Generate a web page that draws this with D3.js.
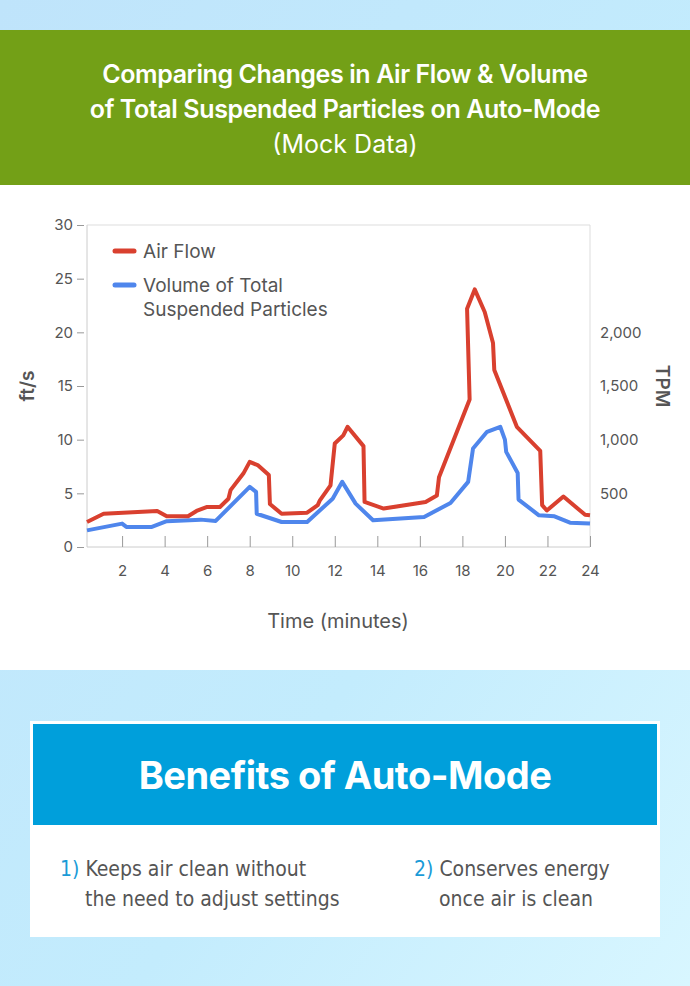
<!DOCTYPE html>
<html><head><meta charset="utf-8">
<script src="https://cdn.jsdelivr.net/npm/d3@7"></script>
<style>
body{margin:0;}
svg{display:block;font-family:Inter,"Open Sans",sans-serif;}
</style></head>
<body>
<svg id="chart" width="690" height="986"></svg>
<script>
const airFlow = [
  [0.35,2.33],[1.13,3.1],[3.65,3.36],[4.1,2.86],[5.1,2.86],[5.5,3.36],[6.0,3.73],[6.6,3.73],
  [7.0,4.5],[7.1,5.3],[7.7,6.84],[8.0,7.93],[8.4,7.6],[8.9,6.7],[8.95,4.0],[9.5,3.1],[10.7,3.2],
  [11.2,3.9],[11.3,4.35],[11.8,5.75],[12.0,9.64],[12.4,10.4],[12.6,11.2],[13.35,9.4],[13.4,4.2],
  [14.3,3.58],[16.27,4.2],[16.8,4.8],[16.9,6.5],[18.34,13.75],[18.22,22.2],[18.58,24.0],[19.05,21.9],
  [19.44,19.0],[19.5,16.5],[20.56,11.2],[21.66,8.96],[21.75,3.9],[21.97,3.4],[22.75,4.7],[23.77,3.0],[24,2.95]
];
const tpm = [
  [0.35,155],[2.0,218],[2.2,187],[3.4,187],[4.1,240],[5.7,255],[6.4,243],[8.0,560],[8.3,513],[8.33,310],
  [9.5,233],[10.7,233],[11.9,450],[12.35,607],[12.98,404],[13.8,249],[16.2,280],[17.44,410],[18.27,607],
  [18.5,918],[19.16,1073],[19.78,1120],[20.0,1000],[20.06,886],[20.6,690],[20.64,442],[21.6,295],
  [22.33,286],[23.06,227],[24,218]
];
const xTicks = [2,4,6,8,10,12,14,16,18,20,22,24];
const yTicks = [0,5,10,15,20,25,30];
const rTicks = [500,1000,1500,2000];

const svg = d3.select("#chart");
const defs = svg.append("defs");
const bg = defs.append("linearGradient").attr("id","bg").attr("x1","0").attr("y1","0").attr("x2","1").attr("y2","1");
bg.append("stop").attr("offset","0").attr("stop-color","#bfe4fb");
bg.append("stop").attr("offset","0.6").attr("stop-color","#c3ecfd");
bg.append("stop").attr("offset","1").attr("stop-color","#d8f6ff");
svg.append("rect").attr("width",690).attr("height",986).attr("fill","url(#bg)");

// header
svg.append("rect").attr("y",30).attr("width",690).attr("height",155).attr("fill","#73a017");
const title = ["Comparing Changes in Air Flow & Volume","of Total Suspended Particles on Auto-Mode"];
svg.selectAll(".title").data(title).join("text")
  .attr("x",345).attr("y",(d,i)=>83+i*35).attr("text-anchor","middle")
  .attr("fill","#fff").attr("font-size",25).attr("font-weight",600).attr("letter-spacing","-0.4").text(d=>d);
svg.append("text").attr("x",345).attr("y",153).attr("text-anchor","middle")
  .attr("fill","#fff").attr("font-size",25).attr("font-weight",400).text("(Mock Data)");

// chart panel
svg.append("rect").attr("y",185).attr("width",690).attr("height",485).attr("fill","#fff");

const x = d3.scaleLinear().domain([0.35,24]).range([87,590]);
const y = d3.scaleLinear().domain([0,30]).range([547,225]);
const yR = d3.scaleLinear().domain([0,3000]).range([547,225]);

const g = svg.append("g").attr("font-family","Inter,sans-serif");
// frame
g.append("line").attr("x1",x.range()[0]).attr("x2",x.range()[1]).attr("y1",225).attr("y2",225).attr("stroke","#ddd");
g.append("line").attr("x1",590).attr("x2",590).attr("y1",225).attr("y2",547).attr("stroke","#ddd");
g.append("line").attr("x1",87).attr("x2",87).attr("y1",225).attr("y2",547).attr("stroke","#ccc");

const yAx = g.append("g").attr("transform","translate(87,0)")
  .call(d3.axisLeft(y).tickValues(yTicks).tickSize(20).tickPadding(4));
yAx.select(".domain").remove();
yAx.selectAll(".tick line").attr("stroke","#999").attr("x1",-10).attr("x2",-3);
yAx.selectAll("text").attr("font-size",15).attr("fill","#555").attr("font-family","Inter,sans-serif").attr("dx",10);

const xAx = g.append("g").attr("transform","translate(0,547)")
  .call(d3.axisBottom(x).tickValues(xTicks).tickSize(0).tickPadding(18));
xAx.select(".domain").attr("stroke","#ccc").attr("d","M87,0H590");
xAx.selectAll(".tick").append("line").attr("y1",-11).attr("y2",0).attr("stroke","#999");
xAx.selectAll("text").attr("font-size",15).attr("fill","#555").attr("font-family","Inter,sans-serif");

const rAx = g.append("g").attr("transform","translate(600,0)")
  .call(d3.axisRight(yR).tickValues(rTicks).tickSize(0).tickPadding(0).tickFormat(d3.format(",")));
rAx.select(".domain").remove();
rAx.selectAll("text").attr("font-size",15).attr("fill","#555").attr("font-family","Inter,sans-serif");

const line = d3.line().x(d=>x(d[0])).y(d=>y(d[1]));
const lineR = d3.line().x(d=>x(d[0])).y(d=>yR(d[1]));
g.append("path").datum(tpm).attr("d",lineR).attr("fill","none").attr("stroke","#4f86ec").attr("stroke-width",4).attr("stroke-linejoin","round");
g.append("path").datum(airFlow).attr("d",line).attr("fill","none").attr("stroke","#d9402f").attr("stroke-width",4).attr("stroke-linejoin","round");

// legend
const leg = g.append("g");
leg.append("line").attr("x1",115).attr("x2",134).attr("y1",251).attr("y2",251).attr("stroke","#d9402f").attr("stroke-width",5).attr("stroke-linecap","round");
leg.append("line").attr("x1",115).attr("x2",134).attr("y1",285).attr("y2",285).attr("stroke","#4f86ec").attr("stroke-width",5).attr("stroke-linecap","round");
leg.append("text").attr("x",143).attr("y",258).attr("font-size",19).attr("fill","#555").text("Air Flow");
leg.append("text").attr("x",143).attr("y",292).attr("font-size",19).attr("fill","#555").text("Volume of Total");
leg.append("text").attr("x",143).attr("y",316).attr("font-size",19).attr("fill","#555").text("Suspended Particles");

g.append("text").attr("transform","translate(34,386) rotate(-90)").attr("text-anchor","middle")
  .attr("font-size",19).attr("font-weight",600).attr("fill","#555").text("ft/s");
g.append("text").attr("transform","translate(656,386) rotate(90)").attr("text-anchor","middle")
  .attr("font-size",19).attr("font-weight",600).attr("fill","#555").text("TPM");
g.append("text").attr("x",338).attr("y",628).attr("text-anchor","middle")
  .attr("font-size",20).attr("fill","#555").text("Time (minutes)");

// benefits box
svg.append("rect").attr("x",30).attr("y",721).attr("width",630).attr("height",216).attr("fill","#fff");
svg.append("rect").attr("x",33).attr("y",724).attr("width",624).attr("height",101).attr("fill","#009fdb");
svg.append("text").attr("x",345).attr("y",789).attr("text-anchor","middle").attr("fill","#fff")
  .attr("font-size",38).attr("font-weight",700).attr("letter-spacing","-0.5").text("Benefits of Auto-Mode");

const items = [
  {num:"1)", lines:["Keeps air clean without","the need to adjust settings"], x:60},
  {num:"2)", lines:["Conserves energy","once air is clean"], x:414}
];
items.forEach(it=>{
  const t = svg.append("text").attr("font-family","'DejaVu Sans Condensed','Liberation Sans Narrow',sans-serif")
    .attr("font-size",21).attr("fill","#555");
  t.append("tspan").attr("x",it.x).attr("y",876).attr("fill","#1a9bd7").text(it.num+" ");
  t.append("tspan").text(it.lines[0]);
  svg.append("text").attr("font-family","'DejaVu Sans Condensed','Liberation Sans Narrow',sans-serif")
    .attr("font-size",21).attr("fill","#555").attr("x",it.x+25).attr("y",906).text(it.lines[1]);
});
</script>
</body></html>
